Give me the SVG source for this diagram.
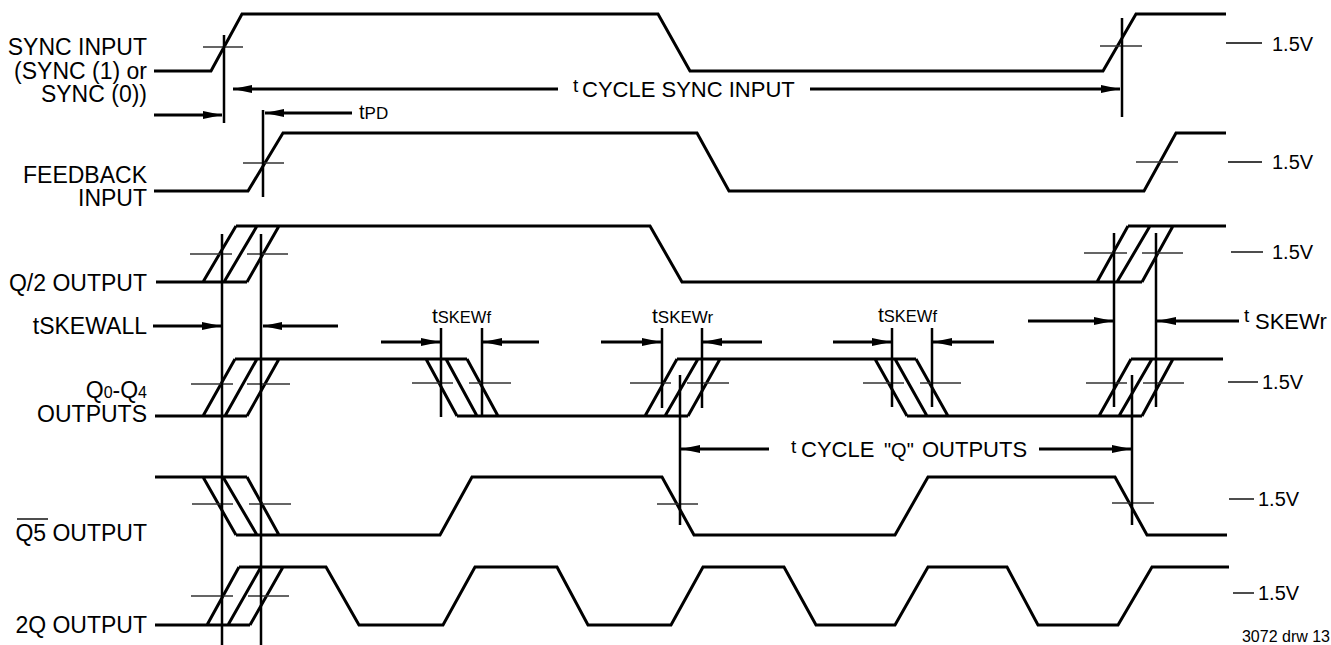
<svg xmlns="http://www.w3.org/2000/svg" width="1331" height="645" viewBox="0 0 1331 645">
<style>
text{font-family:"Liberation Sans",Arial,sans-serif;fill:#000}
.lbl{font-size:23px;text-anchor:end}
.v{font-size:20px}
.w{fill:none;stroke:#000;stroke-width:3;stroke-linejoin:miter;stroke-linecap:butt}
.x{fill:none;stroke:#333;stroke-width:1.4}
.vl{fill:none;stroke:#000;stroke-width:2.5}
.ar{fill:none;stroke:#000;stroke-width:3;marker-end:url(#ah)}
.ref{fill:none;stroke:#000;stroke-width:1.4}
</style>
<defs>
<marker id="ah" markerUnits="userSpaceOnUse" markerWidth="20" markerHeight="10" refX="19" refY="4" orient="auto">
<path d="M0,0 L19,4 L0,8 z" fill="#000"/>
</marker>
</defs>
<rect width="1331" height="645" fill="#fff"/>

<g id="sync-input">
<text class="lbl" x="147" y="55">SYNC INPUT</text>
<text class="lbl" x="147" y="79">(SYNC (1) or</text>
<text class="lbl" x="147" y="102">SYNC (0))</text>
<path class="w" d="M154,71 L211,71 L242,14 L658,14 L690,71 L1103,71 L1136,14 L1226,14"/>
<path class="x" d="M203,47 H243 M1100,46 H1142"/>
<path class="ref" d="M1226,43 H1262"/>
<text class="v" x="1272" y="51">1.5V</text>
</g>

<g id="feedback-input">
<text class="lbl" x="147" y="183">FEEDBACK</text>
<text class="lbl" x="147" y="206">INPUT</text>
<path class="w" d="M154,191 L248,191 L283,133 L697,133 L729,191 L1144,191 L1176,133 L1226,133"/>
<path class="x" d="M243,163 H284 M1136,162 H1178"/>
<path class="ref" d="M1228,162 H1262"/>
<text class="v" x="1272" y="169">1.5V</text>
</g>

<g id="q2-output">
<text class="lbl" x="147" y="291">Q/2 OUTPUT</text>
<path class="w" d="M156,282 L247,282 M203,282 L236,226 M224,282 L257,226 M247,282 L279,226 M236,226 L650,226 L682,282 L1142,282 M1097,282 L1128,226 M1117,282 L1150,226 M1142,282 L1173,226 M1128,226 L1226,226"/>
<path class="x" d="M190,254 H232 M247,254 H288 M1084,253 H1127 M1142,253 H1183"/>
<path class="ref" d="M1231,252 H1263"/>
<text class="v" x="1272" y="259">1.5V</text>
</g>

<g id="q0-q4-outputs">
<text class="lbl" x="147" y="398">Q<tspan font-size="16">0</tspan>-Q<tspan font-size="16">4</tspan></text>
<text class="lbl" x="147" y="422">OUTPUTS</text>
<path class="w" d="M155,416 L247,416 M203,416 L235,359 M225,416 L257,359 M247,416 L279,359 M235,359 L467,359 M426,359 L457,416 M446,359 L477,416 M467,359 L498,416 M457,416 L688,416 M645,416 L677,359 M665,416 L698,359 M688,416 L720,359 M677,359 L916,359 M875,359 L907,416 M895,359 L927,416 M916,359 L948,416 M907,416 L1142,416 M1099,416 L1131,359 M1119,416 L1152,359 M1142,416 L1173,359 M1131,359 L1223,359"/>
<path class="x" d="M191,384 H233 M247,384 H290 M412,383 H453 M469,383 H511 M630,383 H671 M687,383 H729 M863,383 H904 M920,383 H961 M1086,383 H1127 M1143,383 H1184"/>
<path class="ref" d="M1228,382 H1258"/>
<text class="v" x="1262" y="389">1.5V</text>
</g>

<g id="q5-output">
<text class="lbl" x="147" y="541">Q5 OUTPUT</text>
<path class="ref" d="M17,519 H48" stroke-width="1.6"/>
<path class="w" d="M155,477 L247,477 M203,477 L236,535 M223,477 L257,535 M247,477 L279,535 M236,535 L440,535 L472,477 L662,477 L694,535 L895,535 L928,477 L1115,477 L1147,535 L1227,535"/>
<path class="x" d="M192,504 H233 M249,504 H291 M657,504 H698 M1112,503 H1154"/>
<path class="ref" d="M1229,499 H1254"/>
<text class="v" x="1258" y="506">1.5V</text>
</g>

<g id="2q-output">
<text class="lbl" x="147" y="633">2Q OUTPUT</text>
<path class="w" d="M155,625 L250,625 M207,625 L239,567 M228,625 L261,567 M250,625 L283,567 M239,567 L326,567 L359,625 L443,625 L475,567 L557,567 L588,625 L671,625 L703,567 L784,567 L816,625 L895,625 L928,567 L1007,567 L1038,625 L1118,625 L1152,567 L1229,567"/>
<path class="x" d="M191,596 H233 M248,596 H289"/>
<path class="ref" d="M1233,593 H1254"/>
<text class="v" x="1258" y="600">1.5V</text>
</g>

<g id="connectors">
<path class="vl" d="M224,35 V123 M1122,18 V117 M263,110 V197 M222,234 V645 M261,234 V645 M441,328 V417 M482,328 V417 M662,328 V408 M702,328 V408 M892,328 V407 M932,328 V407 M1114,233 V407 M1156,233 V407 M680,375 V525 M1132,375 V525"/>
<path class="ar" d="M558,89 H233"/>
<path class="ar" d="M810,89 H1120"/>
<path class="ar" d="M154,115 H222"/>
<path class="ar" d="M352,113 H265"/>
<path class="ar" d="M153,326 H221"/>
<path class="ar" d="M338,326 H263"/>
<path class="ar" d="M381,342 H440"/>
<path class="ar" d="M539,342 H483"/>
<path class="ar" d="M601,342 H661"/>
<path class="ar" d="M762,342 H703"/>
<path class="ar" d="M833,342 H891"/>
<path class="ar" d="M994,342 H933"/>
<path class="ar" d="M1028,321 H1113"/>
<path class="ar" d="M1239,321 H1157"/>
<path class="ar" d="M769,449 H681"/>
<path class="ar" d="M1039,449 H1131"/>
</g>

<g id="timing-labels">
<text x="573" y="92" font-size="19">t</text>
<text x="582" y="97" font-size="22">CYCLE SYNC INPUT</text>
<text x="359" y="119" font-size="20">t<tspan font-size="17">PD</tspan></text>
<text class="lbl" x="147" y="334" font-size="23.5">tSKEWALL</text>
<text x="432" y="323" font-size="21">t<tspan font-size="16.5">SKEWf</tspan></text>
<text x="652" y="323" font-size="21">t<tspan font-size="17">SKEWr</tspan></text>
<text x="878" y="322" font-size="21">t<tspan font-size="16.5">SKEWf</tspan></text>
<text x="1244" y="322" font-size="19">t</text>
<text x="1255" y="329" font-size="22">SKEWr</text>
<text x="791" y="453" font-size="19">t</text>
<text x="801" y="457" font-size="22">CYCLE</text>
<text x="884" y="457" font-size="20">"Q"</text>
<text x="922" y="457" font-size="22">OUTPUTS</text>
<text x="1330" y="642" font-size="16" text-anchor="end">3072 drw 13</text>
</g>
</svg>
